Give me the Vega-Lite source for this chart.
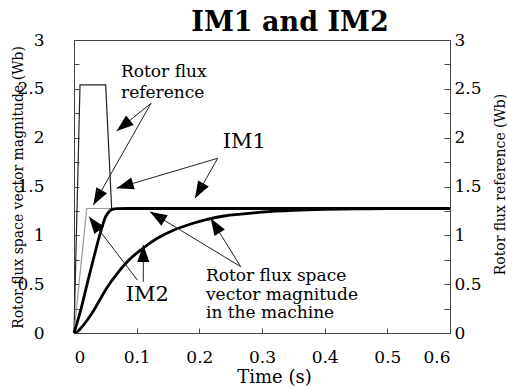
{
  "$schema": "https://vega.github.io/schema/vega-lite/v6.json",
  "width": 376,
  "height": 293,
  "autosize": {"type": "none"},
  "padding": {"left": 74, "top": 40, "right": 57, "bottom": 56},
  "background": "white",
  "config": {
    "view": {"stroke": "#444", "strokeWidth": 1},
    "axis": {
      "grid": false,
      "labelFont": "DejaVu Serif",
      "titleFont": "DejaVu Serif Condensed",
      "labelColor": "black",
      "titleColor": "black",
      "domainColor": "#444",
      "tickColor": "#444",
      "labelFontSize": 17,
      "titleFontSize": 15.5,
      "titleFontWeight": "normal"
    }
  },
  "title": {
    "text": "IM1 and IM2",
    "font": "DejaVu Serif",
    "fontSize": 27,
    "fontWeight": "bold",
    "color": "black",
    "anchor": "middle",
    "frame": "group",
    "dx": 28,
    "offset": -27,
    "baseline": "alphabetic"
  },
  "datasets": {
    "series": [
      {"series": "refIM1", "t": 0, "v": 0},
      {"series": "refIM1", "t": 0.0096, "v": 2.54},
      {"series": "refIM1", "t": 0.0505, "v": 2.54},
      {"series": "refIM1", "t": 0.0601, "v": 1.275},
      {"series": "refIM1", "t": 0.6, "v": 1.275},
      {"series": "refIM2", "t": 0, "v": 0},
      {"series": "refIM2", "t": 0.0203, "v": 1.275},
      {"series": "refIM2", "t": 0.6, "v": 1.275},
      {"series": "IM1", "t": 0, "v": 0},
      {"series": "IM1", "t": 0.0107, "v": 0.235},
      {"series": "IM1", "t": 0.0212, "v": 0.509},
      {"series": "IM1", "t": 0.0319, "v": 0.781},
      {"series": "IM1", "t": 0.0426, "v": 1.037},
      {"series": "IM1", "t": 0.0505, "v": 1.191},
      {"series": "IM1", "t": 0.0559, "v": 1.242},
      {"series": "IM1", "t": 0.0612, "v": 1.266},
      {"series": "IM1", "t": 0.068, "v": 1.274},
      {"series": "IM1", "t": 0.1, "v": 1.275},
      {"series": "IM1", "t": 0.6, "v": 1.275},
      {"series": "IM2", "t": 0, "v": 0},
      {"series": "IM2", "t": 0.0053, "v": 0.015},
      {"series": "IM2", "t": 0.0107, "v": 0.048},
      {"series": "IM2", "t": 0.0212, "v": 0.133},
      {"series": "IM2", "t": 0.0319, "v": 0.236},
      {"series": "IM2", "t": 0.0426, "v": 0.355},
      {"series": "IM2", "t": 0.0531, "v": 0.468},
      {"series": "IM2", "t": 0.0691, "v": 0.611},
      {"series": "IM2", "t": 0.085, "v": 0.73},
      {"series": "IM2", "t": 0.1064, "v": 0.85},
      {"series": "IM2", "t": 0.1329, "v": 0.97},
      {"series": "IM2", "t": 0.1596, "v": 1.055},
      {"series": "IM2", "t": 0.1862, "v": 1.116},
      {"series": "IM2", "t": 0.2127, "v": 1.164},
      {"series": "IM2", "t": 0.2394, "v": 1.198},
      {"series": "IM2", "t": 0.266, "v": 1.218},
      {"series": "IM2", "t": 0.3, "v": 1.238},
      {"series": "IM2", "t": 0.35, "v": 1.256},
      {"series": "IM2", "t": 0.4, "v": 1.266},
      {"series": "IM2", "t": 0.45, "v": 1.271},
      {"series": "IM2", "t": 0.5, "v": 1.273},
      {"series": "IM2", "t": 0.6, "v": 1.275}
    ],
    "arrows": [
      {"t0": 0.1229, "v0": 2.352, "t": 0.0681, "v": 2.068},
      {"t0": 0.1229, "v0": 2.352, "t": 0.0308, "v": 1.311},
      {"t0": 0.2293, "v0": 1.789, "t": 0.0681, "v": 1.482},
      {"t0": 0.2293, "v0": 1.789, "t": 0.1931, "v": 1.379},
      {"t0": 0.101, "v0": 0.543, "t": 0.0239, "v": 1.191},
      {"t0": 0.1106, "v0": 0.525, "t": 0.1106, "v": 0.901},
      {"t0": 0.266, "v0": 0.679, "t": 0.1213, "v": 1.242},
      {"t0": 0.266, "v0": 0.679, "t": 0.2181, "v": 1.174}
    ],
    "labels": [
      {"label": "Rotor flux", "t": 0.075, "v": 2.672},
      {"label": "reference", "t": 0.075, "v": 2.457},
      {"label": "Rotor flux space", "t": 0.2106, "v": 0.584},
      {"label": "vector magnitude", "t": 0.2106, "v": 0.389},
      {"label": "in the machine", "t": 0.2106, "v": 0.2}
    ],
    "imlabels": [
      {"label": "IM1", "t": 0.2373, "v": 1.951},
      {"label": "IM2", "t": 0.0825, "v": 0.389}
    ]
  },
  "layer": [
    {
      "data": {"name": "series"},
      "transform": [{"filter": {"field": "series", "oneOf": ["refIM1", "refIM2"]}}],
      "mark": {"type": "line", "strokeWidth": 1.2},
      "encoding": {
        "x": {
          "field": "t", "type": "quantitative",
          "scale": {"domain": [0, 0.6], "nice": false, "zero": false},
          "axis": {
            "title": "Time (s)",
            "titleFont": "DejaVu Serif",
            "values": [0, 0.05, 0.1, 0.15, 0.2, 0.25, 0.3, 0.35, 0.4, 0.45, 0.5, 0.55, 0.6],
            "format": "~g",
            "labelExpr": "round(datum.value*100) % 10 == 0 ? datum.label : ''",
            "tickSize": -5,
            "labelPadding": 21,
            "titleFontSize": 18,
            "titleX": 200,
            "titleY": 44,
            "titleBaseline": "middle",
            "titleAlign": "center"
          }
        },
        "y": {
          "field": "v", "type": "quantitative",
          "scale": {"domain": [0, 3], "nice": false},
          "axis": {
            "orient": "left",
            "title": "Rotor flux space vector magnitude (Wb)",
            "values": [0, 0.25, 0.5, 0.75, 1, 1.25, 1.5, 1.75, 2, 2.25, 2.5, 2.75, 3],
            "format": "~g",
            "labelExpr": "round(datum.value*4) % 2 == 0 ? datum.label : ''",
            "tickSize": -5,
            "labelPadding": 35,
            "titleX": -57,
            "titleY": 147,
            "titleAngle": -90,
            "titleBaseline": "middle",
            "titleAlign": "center"
          }
        },
        "color": {
          "field": "series", "type": "nominal",
          "scale": {"domain": ["refIM1", "refIM2"], "range": ["#222222", "#999999"]},
          "legend": null
        }
      }
    },
    {
      "data": {"name": "series"},
      "transform": [{"filter": {"field": "series", "oneOf": ["IM1", "IM2"]}}],
      "mark": {"type": "line", "strokeWidth": 2.8, "color": "black", "interpolate": "monotone"},
      "encoding": {
        "x": {"field": "t", "type": "quantitative", "scale": {"domain": [0, 0.6], "nice": false, "zero": false}},
        "y": {"field": "v", "type": "quantitative", "scale": {"domain": [0, 3], "nice": false}, "axis": null},
        "detail": {"field": "series", "type": "nominal"}
      }
    },
    {
      "data": {"name": "arrows"},
      "mark": {"type": "rule", "strokeWidth": 1, "color": "#222222"},
      "encoding": {
        "x": {"field": "t0", "type": "quantitative", "scale": {"domain": [0, 0.6], "nice": false, "zero": false}},
        "y": {
          "field": "v0", "type": "quantitative",
          "scale": {"domain": [0, 3], "nice": false},
          "axis": {
            "orient": "right",
            "title": "Rotor flux reference (Wb)",
            "values": [0, 0.25, 0.5, 0.75, 1, 1.25, 1.5, 1.75, 2, 2.25, 2.5, 2.75, 3],
            "format": "~g",
            "labelExpr": "round(datum.value*4) % 2 == 0 ? datum.label : ''",
            "tickSize": -6,
            "labelPadding": 10,
            "titleX": 49,
            "titleY": 144,
            "titleAngle": -90,
            "titleBaseline": "middle",
            "titleAlign": "center"
          }
        },
        "x2": {"field": "t"},
        "y2": {"field": "v"}
      }
    },
    {
      "data": {"name": "arrows"},
      "transform": [
        {"calculate": "atan2((datum.t - datum.t0) * 376 / 0.6, (datum.v - datum.v0) * 293 / 3) * 180 / PI", "as": "ang"}
      ],
      "mark": {"type": "point", "shape": "M0,0L-0.36,1L0.36,1Z", "size": 1156, "filled": true, "opacity": 1, "color": "black", "strokeWidth": 0},
      "encoding": {
        "x": {"field": "t", "type": "quantitative", "scale": {"domain": [0, 0.6], "nice": false, "zero": false}},
        "y": {"field": "v", "type": "quantitative", "scale": {"domain": [0, 3], "nice": false}, "axis": null},
        "angle": {"field": "ang", "type": "quantitative", "scale": null}
      }
    },
    {
      "data": {"name": "labels"},
      "mark": {"type": "text", "align": "left", "baseline": "middle", "font": "DejaVu Serif", "fontSize": 17, "color": "black"},
      "encoding": {
        "x": {"field": "t", "type": "quantitative", "scale": {"domain": [0, 0.6], "nice": false, "zero": false}},
        "y": {"field": "v", "type": "quantitative", "scale": {"domain": [0, 3], "nice": false}, "axis": null},
        "text": {"field": "label"}
      }
    },
    {
      "data": {"name": "imlabels"},
      "mark": {"type": "text", "align": "left", "baseline": "middle", "font": "DejaVu Serif", "fontSize": 21, "color": "black"},
      "encoding": {
        "x": {"field": "t", "type": "quantitative", "scale": {"domain": [0, 0.6], "nice": false, "zero": false}},
        "y": {"field": "v", "type": "quantitative", "scale": {"domain": [0, 3], "nice": false}, "axis": null},
        "text": {"field": "label"}
      }
    }
  ],
  "resolve": {"axis": {"y": "independent"}}
}
